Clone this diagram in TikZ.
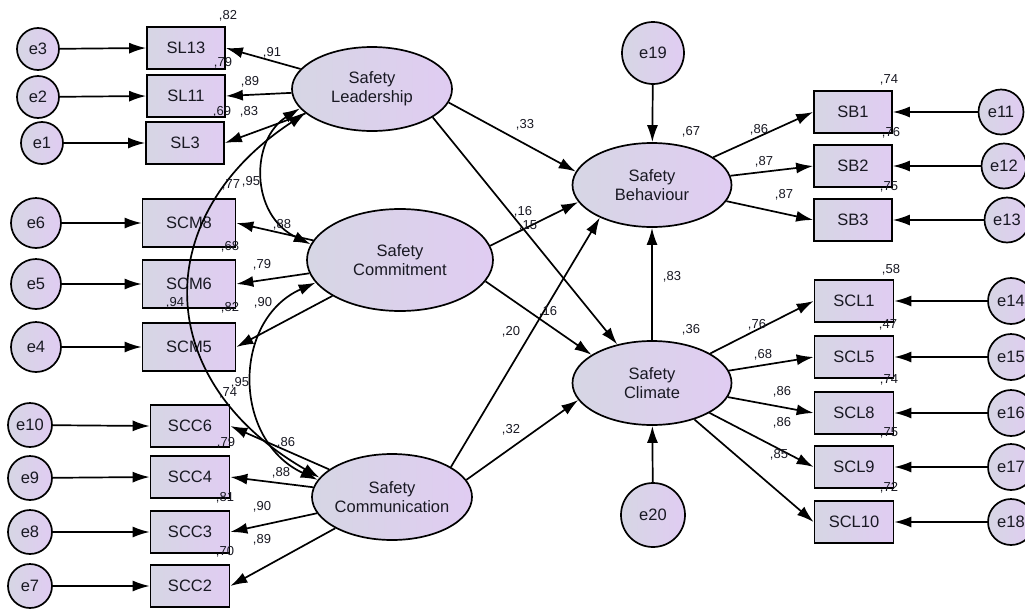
\documentclass[tikz,border=0pt]{standalone}
\usepackage{fontspec}
\setmainfont{Liberation Sans}
\usetikzlibrary{arrows.meta,shapes.geometric}
\definecolor{shL}{RGB}{214,214,228}
\definecolor{shR}{RGB}{224,204,242}
\definecolor{txt}{RGB}{25,25,35}
\begin{document}
\begin{tikzpicture}[x=1pt,y=-1pt,
  box/.style={rectangle, draw=black, line width=1.7pt, left color=shL, right color=shR,
    minimum width=78pt, minimum height=42pt, inner sep=0pt, text=txt,
    font=\fontsize{16.5}{18}\selectfont},
  scmbox/.style={box, minimum width=93pt, minimum height=48pt},
  lat/.style={ellipse, draw=black, line width=1.7pt, left color=shL, right color=shR,
    inner sep=0pt},
  lattext/.style={align=center, text=txt, font=\fontsize{16.5}{19}\selectfont, inner sep=0pt},
  err/.style={circle, draw=black, line width=1.7pt, left color=shL, right color=shR,
    inner sep=0pt, text=txt, font=\fontsize{16.5}{18}\selectfont},
  num/.style={font=\fontsize{13}{14}\selectfont, text=txt, inner sep=0pt},
  arr/.style={line width=1.7pt, -{Latex[length=17pt,width=11pt]}},
  cov/.style={line width=1.7pt, {Latex[length=17pt,width=11pt]}-{Latex[length=17pt,width=11pt]}}
]
\useasboundingbox (0,0) rectangle (1025,608);
\fill[white] (0,0) rectangle (1025,608);

% latent variables
\node[lat, minimum width=160pt, minimum height=84pt,
  label={[lattext]center:Safety\\Leadership}] (lead) at (372,89) {};
\node[lat, minimum width=186pt, minimum height=102pt,
  label={[lattext]center:Safety\\Commitment}] (comm) at (400,260) {};
\node[lat, minimum width=160pt, minimum height=86pt,
  label={[lattext]center:Safety\\Communication}] (comn) at (392,497) {};
\node[lat, minimum width=159pt, minimum height=84pt,
  label={[lattext]center:Safety\\Behaviour}] (beh) at (652,185) {};
\node[lat, minimum width=159pt, minimum height=84pt,
  label={[lattext]center:Safety\\Climate}] (clim) at (652,383) {};

% disturbance terms
\node[err, minimum size=62pt] (e19) at (653,53) {e19};
\node[err, minimum size=64pt] (e20) at (653,515) {e20};

% left indicators
\node[box] (sl13) at (186,48) {SL13};
\node[box] (sl11) at (186,96) {SL11};
\node[box] (sl3) at (185,143) {SL3};
\node[scmbox] (scm8) at (189,223) {SCM8};
\node[scmbox] (scm6) at (189,284) {SCM6};
\node[scmbox] (scm5) at (189,347) {SCM5};
\node[box, minimum width=79pt] (scc6) at (190,426) {SCC6};
\node[box, minimum width=79pt] (scc4) at (190,477) {SCC4};
\node[box, minimum width=79pt] (scc3) at (190,532) {SCC3};
\node[box, minimum width=79pt] (scc2) at (190,586) {SCC2};

% left errors
\node[err, minimum size=42pt] (e3) at (38,49) {e3};
\node[err, minimum size=42pt] (e2) at (38,97) {e2};
\node[err, minimum size=42pt] (e1) at (42,143) {e1};
\node[err, minimum size=50pt] (e6) at (36,223) {e6};
\node[err, minimum size=50pt] (e5) at (36,284) {e5};
\node[err, minimum size=50pt] (e4) at (36,347) {e4};
\node[err, minimum size=44pt] (e10) at (30,425) {e10};
\node[err, minimum size=44pt] (e9) at (30,478) {e9};
\node[err, minimum size=44pt] (e8) at (30,532) {e8};
\node[err, minimum size=44pt] (e7) at (30,586) {e7};

% right indicators
\node[box] (sb1) at (853,112) {SB1};
\node[box] (sb2) at (853,166) {SB2};
\node[box] (sb3) at (853,220) {SB3};
\node[box, minimum width=79pt] (scl1) at (854,301) {SCL1};
\node[box, minimum width=79pt] (scl5) at (854,357) {SCL5};
\node[box, minimum width=79pt] (scl8) at (854,413) {SCL8};
\node[box, minimum width=79pt] (scl9) at (854,467) {SCL9};
\node[box, minimum width=79pt] (scl10) at (854,522) {SCL10};

% right errors
\node[err, minimum size=45pt] (e11) at (1001,112) {e11};
\node[err, minimum size=45pt] (e12) at (1004,166) {e12};
\node[err, minimum size=45pt] (e13) at (1007,220) {e13};
\node[err, minimum size=46pt] (e14) at (1011,301) {e14};
\node[err, minimum size=46pt] (e15) at (1011,357) {e15};
\node[err, minimum size=46pt] (e16) at (1011,413) {e16};
\node[err, minimum size=46pt] (e17) at (1011,467) {e17};
\node[err, minimum size=46pt] (e18) at (1011,522) {e18};

% error arrows left
\foreach \e/\b in {e3/sl13,e2/sl11,e1/sl3,e6/scm8,e5/scm6,e4/scm5,e10/scc6,e9/scc4,e8/scc3,e7/scc2}
  \draw[arr] (\e) -- (\b.west);
% error arrows right
\foreach \e/\b in {e11/sb1,e12/sb2,e13/sb3,e14/scl1,e15/scl5,e16/scl8,e17/scl9,e18/scl10}
  \draw[arr] (\e) -- (\b.east);

% loadings left
\foreach \b in {sl13,sl11,sl3} \draw[arr] (lead) -- (\b.east);
\foreach \b in {scm8,scm6,scm5} \draw[arr] (comm) -- (\b.east);
\foreach \b in {scc6,scc4,scc3,scc2} \draw[arr] (comn) -- (\b.east);
% loadings right
\foreach \b in {sb1,sb2,sb3} \draw[arr] (beh) -- (\b.west);
\foreach \b in {scl1,scl5,scl8,scl9,scl10} \draw[arr] (clim) -- (\b.west);

% structural paths
\draw[arr] (lead.-10) -- (beh.170);
\draw[arr] (lead.-25) -- (clim.132);
\draw[arr] (comm.9) -- (beh.193);
\draw[arr] (comm.-14) -- (clim.155);
\draw[arr] (comn.27) -- (beh.212);
\draw[arr] (comn.13) -- (clim.193);
\draw[arr] (clim.north) -- (beh.south);
\draw[arr] (e19) -- (beh);
\draw[arr] (e20) -- (clim);

% covariances
\draw[cov] (lead.195) .. controls (250,140) and (250,215) .. (comm.170);
\draw[cov] (comm.195) .. controls (232,320) and (232,440) .. (comn.167);
\draw[cov] (lead.200) .. controls (150,215) and (150,380) .. (comn.165);

% R-squared labels
\node[num] (r1) at (228,16) {,82};
\node[num] (r2) at (223,63) {,79};
\node[num] (r3) at (222,112) {,69};
\node[num] (r4) at (231,185) {,77};
\node[num] (r5) at (230,247) {,68};
\node[num] (r6) at (230,308) {,82};
\node[num] (r7) at (228,393) {,74};
\node[num] (r8) at (226,443) {,79};
\node[num] (r9) at (225,498) {,81};
\node[num] (r10) at (225,552) {,70};
\node[num] (r11) at (889,80) {,74};
\node[num] (r12) at (891,133) {,76};
\node[num] (r13) at (889,187) {,75};
\node[num] (r14) at (891,270) {,58};
\node[num] (r15) at (888,325) {,47};
\node[num] (r16) at (889,380) {,74};
\node[num] (r17) at (889,433) {,75};
\node[num] (r18) at (889,488) {,72};
\node[num] (r19) at (691,132) {,67};
\node[num] (r20) at (691,330) {,36};

% covariance labels
\node[num] (c1) at (251,182) {,95};
\node[num] (c2) at (240,383) {,95};
\node[num] (c3) at (175,303) {,94};

% loading labels
\node[num] (l1) at (272,53) {,91};
\node[num] (l2) at (250,82) {,89};
\node[num] (l3) at (249,112) {,83};
\node[num] (l4) at (282,225) {,88};
\node[num] (l5) at (262,265) {,79};
\node[num] (l6) at (263,303) {,90};
\node[num] (l7) at (286,443) {,86};
\node[num] (l8) at (281,473) {,88};
\node[num] (l9) at (262,507) {,90};
\node[num] (l10) at (262,540) {,89};
\node[num] (l11) at (759,130) {,86};
\node[num] (l12) at (764,162) {,87};
\node[num] (l13) at (784,195) {,87};
\node[num] (l14) at (757,325) {,76};
\node[num] (l15) at (763,355) {,68};
\node[num] (l16) at (782,392) {,86};
\node[num] (l17) at (782,423) {,86};
\node[num] (l18) at (779,455) {,85};

% structural labels
\node[num] (p1) at (525,125) {,33};
\node[num] (p2) at (523,212) {,16};
\node[num] (p3) at (528,226) {,15};
\node[num] (p4) at (548,312) {,16};
\node[num] (p5) at (511,332) {,20};
\node[num] (p6) at (511,430) {,32};
\node[num] (p7) at (672,277) {,83};
\end{tikzpicture}
\end{document}
